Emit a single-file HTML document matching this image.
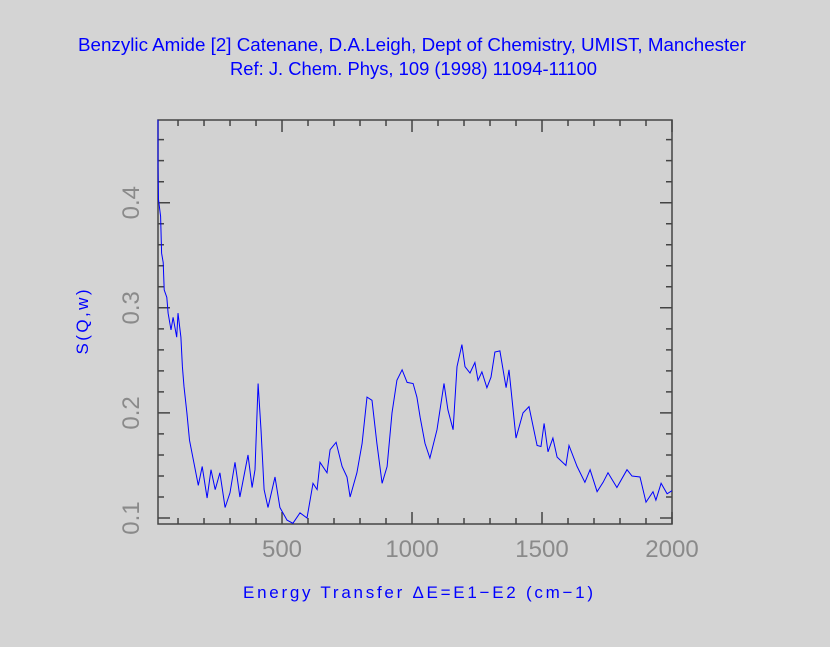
<!DOCTYPE html>
<html><head><meta charset="utf-8"><style>
body{margin:0;background:#d4d4d4;}
svg{display:block;font-family:"Liberation Sans",sans-serif;}
</style></head><body>
<svg id="chart" width="830" height="647">
<rect width="830" height="647" fill="#d4d4d4"/>
<text x="78" y="51" textLength="668" lengthAdjust="spacingAndGlyphs" fill="#0000ff" font-size="18">Benzylic Amide [2] Catenane, D.A.Leigh, Dept of Chemistry, UMIST, Manchester</text>
<text x="230" y="75" textLength="367" lengthAdjust="spacingAndGlyphs" fill="#0000ff" font-size="18">Ref: J. Chem. Phys, 109 (1998) 11094-11100</text>
<g id="axes"></g>
<path id="series" fill="none" stroke="#0000ff" stroke-width="1"/>
<text x="243" y="598" textLength="350" lengthAdjust="spacing" fill="#0000ff" font-size="17">Energy Transfer ΔE=E1−E2 (cm−1)</text>
<text transform="translate(88,322) rotate(-90)" text-anchor="middle" textLength="65" lengthAdjust="spacing" fill="#0000ff" font-size="17">S(Q,w)</text>
</svg>
<script>
const energies=[23,23,25,33,37,43,47,57,62,73,81,95,100,111,117,123,134,144,159,178,193,212,227,243,261,281,300,319,338,369,385,396,408,419,431,446,473,492,519,542,569,596,619,635,646,673,685,708,731,750,762,788,808,827,846,865,885,904,923,942,962,981,1004,1019,1031,1050,1069,1096,1123,1138,1158,1173,1192,1204,1223,1242,1254,1269,1288,1304,1319,1338,1362,1373,1400,1427,1450,1481,1496,1508,1523,1542,1558,1592,1604,1635,1665,1685,1712,1735,1754,1788,1827,1846,1877,1900,1927,1938,1958,1981,2000];
const sqw=[0.479,0.434,0.403,0.387,0.352,0.343,0.317,0.310,0.295,0.279,0.291,0.272,0.295,0.272,0.244,0.225,0.200,0.174,0.155,0.131,0.149,0.119,0.146,0.127,0.143,0.110,0.124,0.153,0.120,0.160,0.129,0.146,0.228,0.184,0.127,0.110,0.139,0.110,0.098,0.095,0.105,0.100,0.133,0.127,0.153,0.143,0.165,0.172,0.149,0.139,0.120,0.143,0.171,0.215,0.212,0.171,0.133,0.149,0.200,0.231,0.241,0.229,0.228,0.215,0.196,0.171,0.157,0.184,0.228,0.203,0.184,0.244,0.265,0.244,0.238,0.248,0.231,0.239,0.224,0.234,0.258,0.259,0.224,0.241,0.176,0.200,0.206,0.169,0.168,0.190,0.163,0.176,0.158,0.150,0.169,0.149,0.134,0.146,0.125,0.134,0.143,0.129,0.146,0.140,0.139,0.115,0.125,0.117,0.133,0.123,0.126];
const xTicks=[500,1000,1500,2000];
const yTicks=[0.1,0.2,0.3,0.4];
const L=158,R=672,T=120,B=524;
const X0=23,X1=2000,Y0=0.0943,Y1=0.4787;
const sx=v=>L+(v-X0)/(X1-X0)*(R-L);
const sy=v=>B-(v-Y0)/(Y1-Y0)*(B-T);
const NS='http://www.w3.org/2000/svg';
const g=document.getElementById('axes');
function mk(t,a){const e=document.createElementNS(NS,t);for(const k in a)e.setAttribute(k,a[k]);g.appendChild(e);return e;}
const frame=mk('rect',{x:L,y:T,width:R-L,height:B-T,fill:'#d2d2d2',stroke:'#444','stroke-width':1.5});


let d='';
for(let v=100;v<=2000;v+=100){const x=sx(v),len=(v%500===0)?12:6;d+=`M${x},${B}v${-len}M${x},${T}v${len}`;}
for(let i=0;i<=19;i++){const v=0.1+i*0.02;if(v>Y1)break;const y=sy(v),len=(i%5===0)?12:6;d+=`M${L},${y}h${len}M${R},${y}h${-len}`;}
const ticks=mk('path',{d:d,stroke:'#444','stroke-width':1.5,fill:'none'});


xTicks.forEach(v=>{const t=mk('text',{x:sx(v),y:557,'text-anchor':'middle',fill:'#8a8a8a','font-size':24});t.textContent=String(v);

});
yTicks.forEach(v=>{const t=mk('text',{transform:`translate(139,${sy(v)}) rotate(-90)`,'text-anchor':'middle',fill:'#8a8a8a','font-size':24});t.textContent=String(v);

});
document.getElementById('series').setAttribute('d',energies.map((e,i)=>(i?'L':'M')+sx(e).toFixed(1)+','+sy(sqw[i]).toFixed(1)).join(''));
</script>
</body></html>
